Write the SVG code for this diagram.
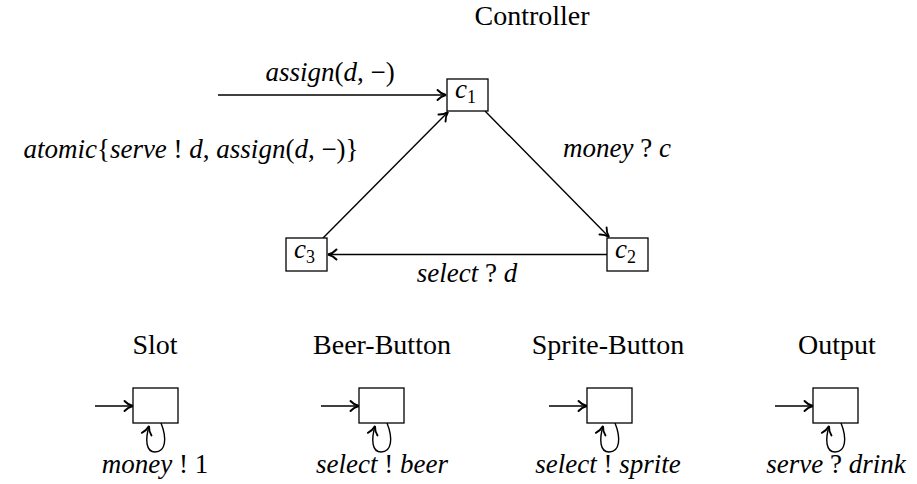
<svg xmlns="http://www.w3.org/2000/svg" width="917" height="484" viewBox="0 0 917 484">
<defs>
<marker id="ah" viewBox="-10 -7 12 14" refX="0" refY="0" markerWidth="12" markerHeight="14" markerUnits="userSpaceOnUse" orient="auto">
<path d="M-8.5,-5 C-6,-2.2 -3,-0.7 0,0 C-3,0.7 -6,2.2 -8.5,5" fill="none" stroke="#000" stroke-width="1.9" stroke-linecap="round"/>
</marker>
</defs>
<g id="connectors" fill="none" stroke="#000" stroke-width="1.4" marker-end="url(#ah)">
<line x1="218" y1="95" x2="446" y2="95"/>
<line x1="485" y1="111" x2="609" y2="237"/>
<line x1="607" y1="254.5" x2="328" y2="254.5"/>
<line x1="323" y1="238" x2="448" y2="112"/>
<line x1="95" y1="406" x2="133" y2="406"/>
<line x1="321" y1="406" x2="359" y2="406"/>
<line x1="549" y1="406" x2="587" y2="406"/>
<line x1="775" y1="406" x2="813" y2="406"/>
<path d="M161,423 C167,438 166,452 155,452 C146,452 145,440 149,426"/>
<path d="M387,423 C393,438 392,452 381,452 C372,452 371,440 375,426"/>
<path d="M615,423 C621,438 620,452 609,452 C600,452 599,440 603,426"/>
<path d="M841,423 C847,438 846,452 835,452 C826,452 825,440 829,426"/>
</g>
<g id="edge-labels" font-family="Liberation Serif" font-size="27" font-style="italic" text-anchor="middle" fill="#000">
<text x="330" y="81">assign<tspan font-style="normal">(</tspan>d<tspan font-style="normal">, −)</tspan></text>
<text x="191" y="158">atomic<tspan font-style="normal">{</tspan>serve <tspan font-style="normal">!</tspan> d<tspan font-style="normal">, </tspan>assign<tspan font-style="normal">(</tspan>d<tspan font-style="normal">, −)}</tspan></text>
<text x="617" y="157">money <tspan font-style="normal">?</tspan> c</text>
<text x="467" y="282">select <tspan font-style="normal">?</tspan> d</text>
</g>
<text font-family="Liberation Serif" font-size="28" text-anchor="middle" x="532" y="25">Controller</text>
<g id="c1">
<rect x="447" y="79" width="41" height="32" fill="#fff" stroke="#000" stroke-width="1.3"/>
<text font-family="Liberation Serif" font-size="27" font-style="italic" x="455" y="98">c<tspan font-style="normal" font-size="18" dy="5">1</tspan></text>
</g>
<g id="c2">
<rect x="607" y="238" width="41" height="33" fill="#fff" stroke="#000" stroke-width="1.3"/>
<text font-family="Liberation Serif" font-size="27" font-style="italic" x="615" y="258">c<tspan font-style="normal" font-size="18" dy="5">2</tspan></text>
</g>
<g id="c3">
<rect x="286" y="238" width="41" height="33" fill="#fff" stroke="#000" stroke-width="1.3"/>
<text font-family="Liberation Serif" font-size="27" font-style="italic" x="294" y="258">c<tspan font-style="normal" font-size="18" dy="5">3</tspan></text>
</g>
<g id="slot">
<text font-family="Liberation Serif" font-size="28" text-anchor="middle" x="155" y="354">Slot</text>
<rect x="133" y="388" width="45" height="35" fill="#fff" stroke="#000" stroke-width="1.3"/>
<text font-family="Liberation Serif" font-size="27" font-style="italic" text-anchor="middle" x="155" y="473">money <tspan font-style="normal">! 1</tspan></text>
</g>
<g id="beer-button">
<text font-family="Liberation Serif" font-size="28" text-anchor="middle" x="382" y="354">Beer-Button</text>
<rect x="359" y="388" width="45" height="35" fill="#fff" stroke="#000" stroke-width="1.3"/>
<text font-family="Liberation Serif" font-size="27" font-style="italic" text-anchor="middle" x="382" y="473">select <tspan font-style="normal">!</tspan> beer</text>
</g>
<g id="sprite-button">
<text font-family="Liberation Serif" font-size="28" text-anchor="middle" x="608" y="354">Sprite-Button</text>
<rect x="587" y="388" width="45" height="35" fill="#fff" stroke="#000" stroke-width="1.3"/>
<text font-family="Liberation Serif" font-size="27" font-style="italic" text-anchor="middle" x="608" y="473">select <tspan font-style="normal">!</tspan> sprite</text>
</g>
<g id="output">
<text font-family="Liberation Serif" font-size="28" text-anchor="middle" x="837" y="354">Output</text>
<rect x="813" y="388" width="45" height="35" fill="#fff" stroke="#000" stroke-width="1.3"/>
<text font-family="Liberation Serif" font-size="27" font-style="italic" text-anchor="middle" x="836" y="473">serve <tspan font-style="normal">?</tspan> drink</text>
</g>
</svg>
